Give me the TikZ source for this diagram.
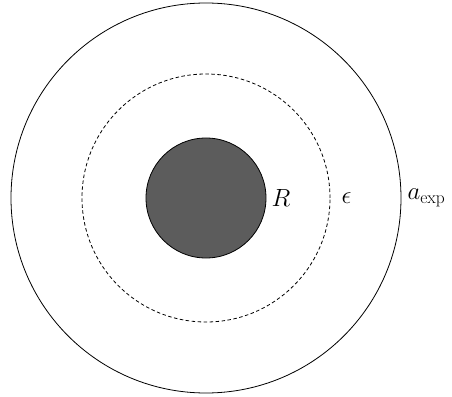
\documentclass[tikz,border=0pt]{standalone}
\usepackage{amsmath,amssymb}
\usepackage{xcolor}
\usepackage{tikz}
\usetikzlibrary{positioning}
\definecolor{coregray}{RGB}{92,92,92}

\begin{document}
\begin{tikzpicture}[
    x=1pt, y=1pt,
    shell/.style={circle, draw=black, line width=0.8pt, inner sep=0pt},
    core/.style={circle, draw=black, line width=0.8pt, fill=coregray, inner sep=0pt, minimum size=120pt},
    lbl/.style={inner sep=0pt, font=\fontsize{25}{27}\selectfont}
]
    \useasboundingbox (-206,-198) rectangle (246,198);

    % Circles
    \node (outer) at (0,0) [shell, minimum size=390pt] {};
    \node (cutoff) at (0,0) [shell, dashed, dash pattern=on 3.5pt off 2.5pt, minimum size=248pt] {};
    \node (sphere) at (0,0) [core] {};

    % Labels
    \node (lblR) [lbl, right=5pt of sphere.east] {$R$};
    \node (lbleps) [lbl, right=11pt of cutoff.east] {$\epsilon$};
    \node (lblaexp) [lbl, right=6pt of outer.east] {$a_{\text{exp}}$};

\end{tikzpicture}
\end{document}
